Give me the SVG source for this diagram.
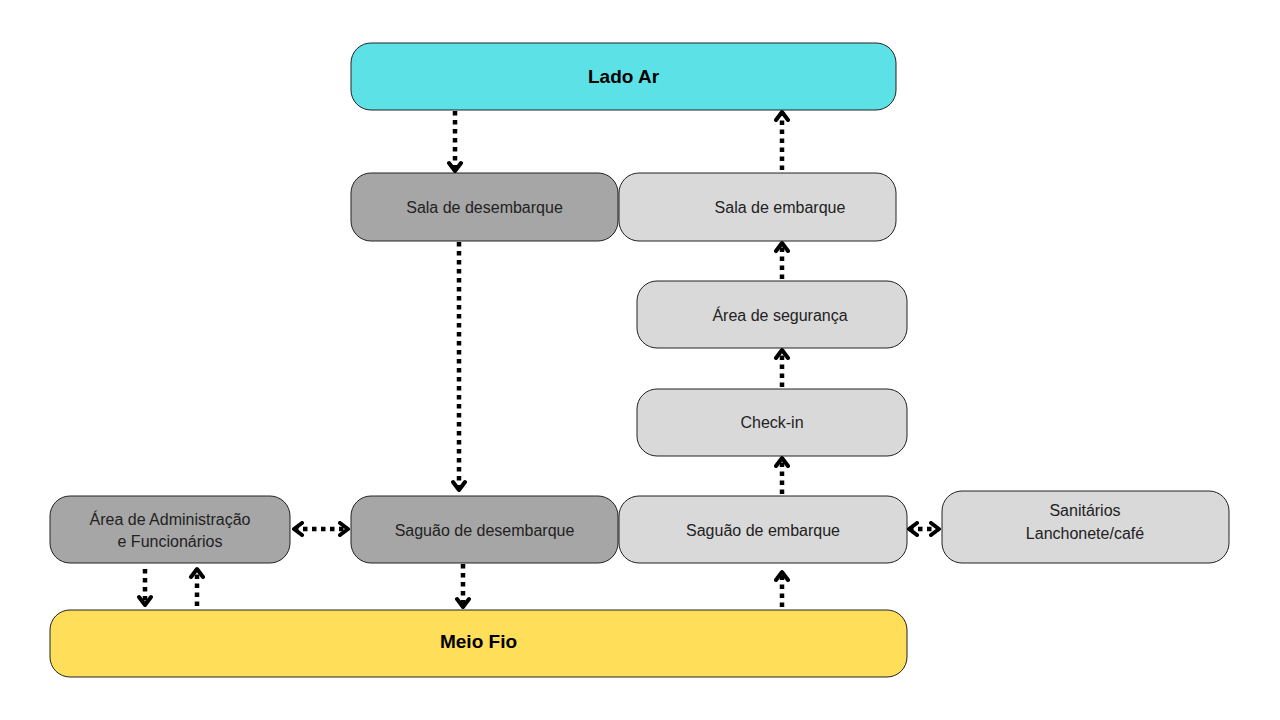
<svg xmlns="http://www.w3.org/2000/svg" width="1280" height="720" viewBox="0 0 1280 720">
<style>
.box{stroke:#222;stroke-width:1}
.dark{fill:#A6A6A6}
.light{fill:#D9D9D9}
.t{font-family:"Liberation Sans",Arial,sans-serif;font-size:16px;fill:#222;text-anchor:middle;dominant-baseline:central}
.tb{font-family:"Liberation Sans",Arial,sans-serif;font-size:19px;font-weight:bold;fill:#000;text-anchor:middle;dominant-baseline:central}
.c{stroke:#000;stroke-width:4.5;stroke-dasharray:4.5 4.5;fill:none}
</style>
<defs>
<marker id="ah" viewBox="0 0 14 16" refX="11" refY="8" markerWidth="14" markerHeight="16" markerUnits="userSpaceOnUse" orient="auto-start-reverse">
<path d="M3,2 L11,8 L3,14" fill="none" stroke="#000" stroke-width="4" stroke-linecap="round" stroke-linejoin="round"/>
</marker>
</defs>
<rect width="1280" height="720" fill="#fff"/>
<g id="lado-ar"><rect class="box" x="351" y="43" width="545" height="67" rx="20" fill="#5CE1E6"/><text class="tb" x="623.5" y="76">Lado Ar</text></g>
<g id="sala-desembarque"><rect class="box dark" x="351" y="173" width="267" height="68" rx="20"/><text class="t" x="484.5" y="207">Sala de desembarque</text></g>
<g id="sala-embarque"><rect class="box light" x="619" y="173" width="277" height="68" rx="20"/><text class="t" x="780" y="207">Sala de embarque</text></g>
<g id="area-seguranca"><rect class="box light" x="637" y="281" width="270" height="67" rx="20"/><text class="t" x="780" y="315">Área de segurança</text></g>
<g id="check-in"><rect class="box light" x="637" y="389" width="270" height="67" rx="20"/><text class="t" x="772" y="422">Check-in</text></g>
<g id="area-admin"><rect class="box dark" x="50" y="496" width="240" height="67" rx="20"/><text class="t" x="170" y="519">Área de Administração</text><text class="t" x="170" y="541">e Funcionários</text></g>
<g id="saguao-desembarque"><rect class="box dark" x="351" y="496" width="267" height="67" rx="20"/><text class="t" x="484.5" y="530">Saguão de desembarque</text></g>
<g id="saguao-embarque"><rect class="box light" x="619" y="496" width="288" height="67" rx="20"/><text class="t" x="763" y="530">Saguão de embarque</text></g>
<g id="sanitarios"><rect class="box light" x="942" y="491" width="287" height="72" rx="20"/><text class="t" x="1085" y="510">Sanitários</text><text class="t" x="1085" y="533">Lanchonete/café</text></g>
<g id="meio-fio"><rect class="box" x="50" y="610" width="857" height="67" rx="20" fill="#FFDE59"/><text class="tb" x="478.5" y="641">Meio Fio</text></g>
<g id="connectors">
<line class="c" x1="455" y1="111" x2="455" y2="171" marker-end="url(#ah)"/>
<line class="c" x1="782" y1="170" x2="782" y2="112" marker-end="url(#ah)"/>
<line class="c" x1="782" y1="279" x2="782" y2="243" marker-end="url(#ah)"/>
<line class="c" x1="782" y1="387" x2="782" y2="350" marker-end="url(#ah)"/>
<line class="c" x1="782" y1="494" x2="782" y2="458" marker-end="url(#ah)"/>
<line class="c" x1="459" y1="242" x2="459" y2="490" marker-end="url(#ah)"/>
<line class="c" x1="463" y1="564" x2="463" y2="607" marker-end="url(#ah)"/>
<line class="c" x1="782" y1="607" x2="782" y2="572" marker-end="url(#ah)"/>
<line class="c" x1="145" y1="569" x2="145" y2="605" marker-end="url(#ah)"/>
<line class="c" x1="197" y1="606" x2="197" y2="569" marker-end="url(#ah)"/>
<line class="c" x1="294" y1="529" x2="348" y2="529" marker-start="url(#ah)" marker-end="url(#ah)"/>
<line class="c" x1="909" y1="529" x2="939" y2="529" marker-start="url(#ah)" marker-end="url(#ah)"/>
</g>
</svg>
